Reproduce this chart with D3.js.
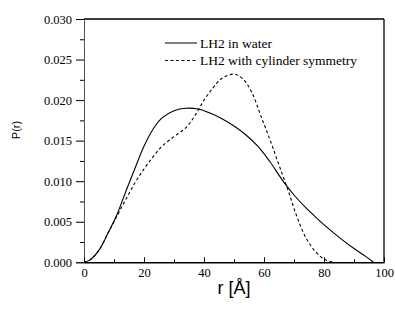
<!DOCTYPE html>
<html><head><meta charset="utf-8">
<script src="https://cdn.jsdelivr.net/npm/d3@7"></script>
<style>body{margin:0;background:#fff}svg{display:block}</style>
</head><body>
<svg id="c" width="395" height="310"></svg>
<script>
// r values (Å) and P(r) for each series
const waterR = [0,2,5,8,11,14,17,20,23,26,30,34,38,42,46,50,54,58,62,66,70,74,78,82,86,90,94,96.5];
const waterP = [0,0.0003,0.0015,0.0036,0.0059,0.0088,0.0116,0.0143,0.0164,0.0178,0.0187,0.0190,0.0189,0.0184,0.0177,0.0168,0.0157,0.0143,0.0124,0.0102,0.0083,0.0067,0.0053,0.0040,0.0028,0.0017,0.0007,0];
const cylR = [0,2,5,8,11,14,17,20,23,26,30,34,37,40,43,46,50,53,56,59,62,65,68,71,74,77,80,83];
const cylP = [0,0.0003,0.0015,0.0036,0.0057,0.0078,0.0098,0.0115,0.0130,0.0143,0.0155,0.0166,0.0181,0.0200,0.0215,0.0227,0.0232,0.0226,0.0209,0.0180,0.0151,0.0120,0.0089,0.0056,0.0030,0.0014,0.0004,0];
const xTicks = [0,20,40,60,80,100];
const yTicks = [0.000,0.005,0.010,0.015,0.020,0.025,0.030];
const seriesNames = ["LH2 in water","LH2 with cylinder symmetry"];

const svg = d3.select("#c");
const L=84,R=384,T=19,B=262.3;
const x = d3.scaleLinear().domain([0,100]).range([L,R]);
const y = d3.scaleLinear().domain([0,0.03]).range([B,T]);
const serif = "'Liberation Serif','Times New Roman',serif";

// y axis: outward ticks
const yAx = svg.append("g").attr("transform",`translate(${L},0)`)
  .call(d3.axisLeft(y).tickValues(yTicks).tickFormat(d3.format(".3f")).tickSize(8).tickPadding(4));
yAx.select(".domain").attr("stroke","#555").attr("stroke-width",1);
yAx.selectAll("text").attr("font-family",serif).attr("font-size",12.5).attr("fill","#000");
svg.append("g").attr("transform",`translate(${L},0)`)
  .call(d3.axisLeft(y).tickValues(d3.range(0.0025,0.03,0.005)).tickFormat("").tickSize(4))
  .select(".domain").remove();

// x axis: inward ticks
const xAx = svg.append("g").attr("transform",`translate(0,${B})`)
  .call(d3.axisBottom(x).tickValues(xTicks).tickSize(-5).tickPadding(3).tickSizeOuter(0));
xAx.select(".domain").attr("stroke-width",1.6);
xAx.selectAll("text").attr("font-family",serif).attr("font-size",12.5).attr("fill","#000").attr("dy","0.9em");
svg.append("g").attr("transform",`translate(0,${B})`)
  .call(d3.axisBottom(x).tickValues(d3.range(10,100,20)).tickFormat("").tickSize(-3))
  .select(".domain").remove();

// frame top & right
svg.append("line").attr("x1",L).attr("x2",R).attr("y1",T).attr("y2",T).attr("stroke","#000").attr("stroke-width",1.6);
svg.append("line").attr("x1",R).attr("x2",R).attr("y1",T).attr("y2",B).attr("stroke","#000").attr("stroke-width",1.3);

const line = d3.line().x(d=>x(d[0])).y(d=>y(d[1])).curve(d3.curveCatmullRom.alpha(0.5));
svg.append("path").datum(d3.zip(waterR,waterP)).attr("d",line)
  .attr("fill","none").attr("stroke","#000").attr("stroke-width",1.1);
svg.append("path").datum(d3.zip(cylR,cylP)).attr("d",line)
  .attr("fill","none").attr("stroke","#000").attr("stroke-width",1.1).attr("stroke-dasharray","3,2.5");

// legend
const lg = svg.append("g");
[0,1].forEach(i=>{
  const yy = 43 + i*17.5;
  lg.append("line").attr("x1",165).attr("x2",197).attr("y1",yy).attr("y2",yy)
    .attr("stroke","#000").attr("stroke-width",1).attr("stroke-dasharray", i?"3,2.5":null);
  lg.append("text").attr("x",200).attr("y",yy).attr("dy","0.35em")
    .attr("font-family",serif).attr("font-size",13.5).text(seriesNames[i]);
});

// axis titles
svg.append("text").attr("x",(L+R)/2).attr("y",294).attr("text-anchor","middle")
  .attr("font-family","'Liberation Sans',Arial,sans-serif").attr("font-size",18).text("r [Å]");
svg.append("text").attr("transform","translate(20,130) rotate(-90)").attr("text-anchor","middle")
  .attr("font-family","'Liberation Sans',Arial,sans-serif").attr("font-size",11).text("P(r)");
</script>
</body></html>
